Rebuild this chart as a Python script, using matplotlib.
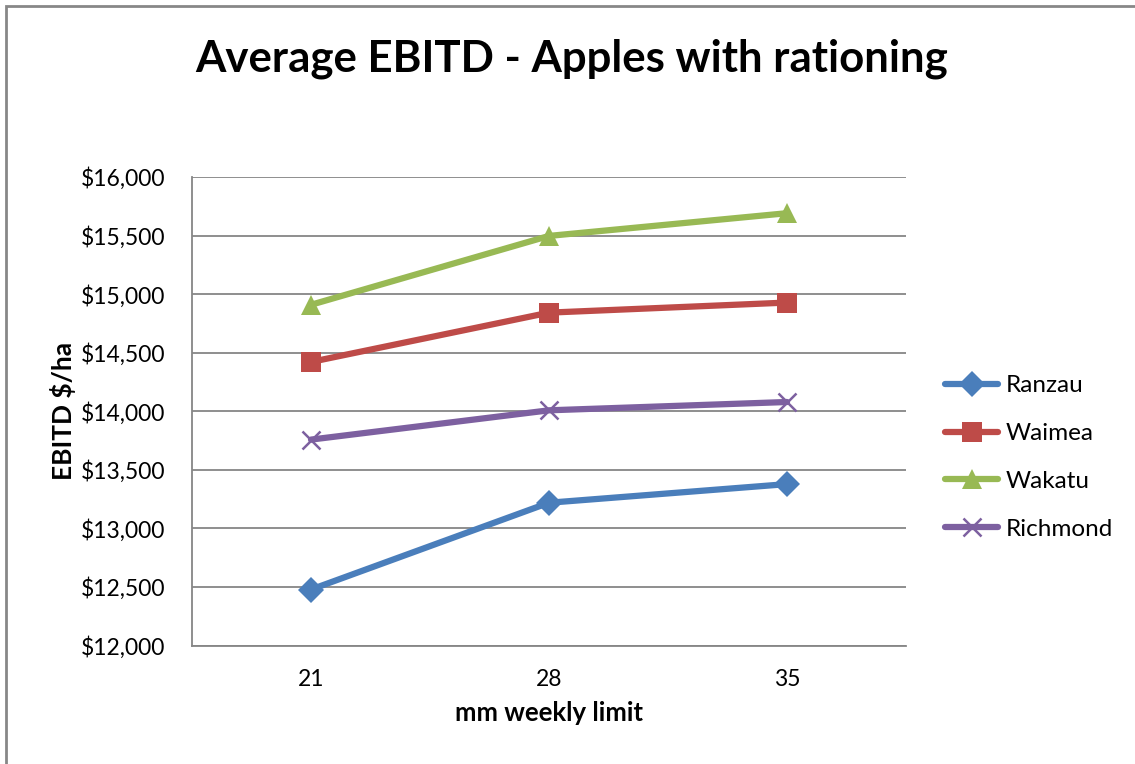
import matplotlib
matplotlib.use("Agg")
import matplotlib.pyplot as plt
from matplotlib.patches import Rectangle

plt.rcParams['font.family'] = ['Lato', 'DejaVu Sans']

# Data
x_labels = ['21', '28', '35']
ranzau = [12478, 13219, 13378]
waimea = [14421, 14842, 14928]
wakatu = [14909, 15497, 15691]
richmond = [13758, 14008, 14079]

series = [
    ('Ranzau', ranzau, '#4A7EBB', 'D', 13.5),
    ('Waimea', waimea, '#BE4B48', 's', 14),
    ('Wakatu', wakatu, '#98B954', '^', 14.5),
    ('Richmond', richmond, '#7D60A0', 'x', 13),
]

W, H = 1135, 764
fig = plt.figure(figsize=(W / 100, H / 100), dpi=100)
fig.patch.set_facecolor('white')

# chart border
fig.add_artist(Rectangle((5.5 / W, -0.1), 1.2, 1 - 6.5 / H + 0.1,
                         transform=fig.transFigure, fill=False,
                         edgecolor='#878787', linewidth=2.0))

ax = fig.add_axes([192 / W, 1 - 645.5 / H, 714 / W, 468.5 / H])
pos = list(range(len(x_labels)))
for name, vals, col, mk, ms in series:
    ax.plot(pos, vals, color=col, lw=4.5, marker=mk, markersize=ms,
            markeredgewidth=1.8 if mk == 'x' else 0, label=name,
            solid_capstyle='round', solid_joinstyle='round', zorder=3)

ax.set_xlim(-0.5, 2.5)
ax.set_ylim(12000, 16000)
ax.set_xticks(pos)
ax.set_xticklabels(x_labels)
yt = list(range(12000, 16001, 500))
ax.set_yticks(yt)
ax.set_yticklabels(['${:,}'.format(v) for v in yt])
ax.tick_params(axis='both', length=0, labelsize=16.5, colors='black')
ax.tick_params(axis='y', pad=19)
ax.tick_params(axis='x', pad=17)
ax.grid(axis='y', color='#868686', linewidth=1.3)
ax.set_axisbelow(True)
for s in ['top', 'right']:
    ax.spines[s].set_visible(False)
for s in ['left', 'bottom']:
    ax.spines[s].set_color('#868686')
    ax.spines[s].set_linewidth(1.3)

ax.set_xlabel('mm weekly limit', fontsize=18.5, fontweight='bold', labelpad=8)
ax.set_ylabel('EBITD $/ha', fontsize=19, fontweight='bold', labelpad=4)

fig.text(572 / W, 1 - 59 / H, 'Average EBITD - Apples with rationing',
         ha='center', va='center', fontsize=31.5, fontweight='bold')

leg = ax.legend(loc='center left', bbox_to_anchor=(945 / W, 1 - 457.5 / H),
                bbox_transform=fig.transFigure, frameon=False, fontsize=17.5,
                handlelength=2.2, handletextpad=0.3, labelspacing=1.1,
                borderpad=0, borderaxespad=0)

fig.savefig('out.png', dpi=100, facecolor='white')
